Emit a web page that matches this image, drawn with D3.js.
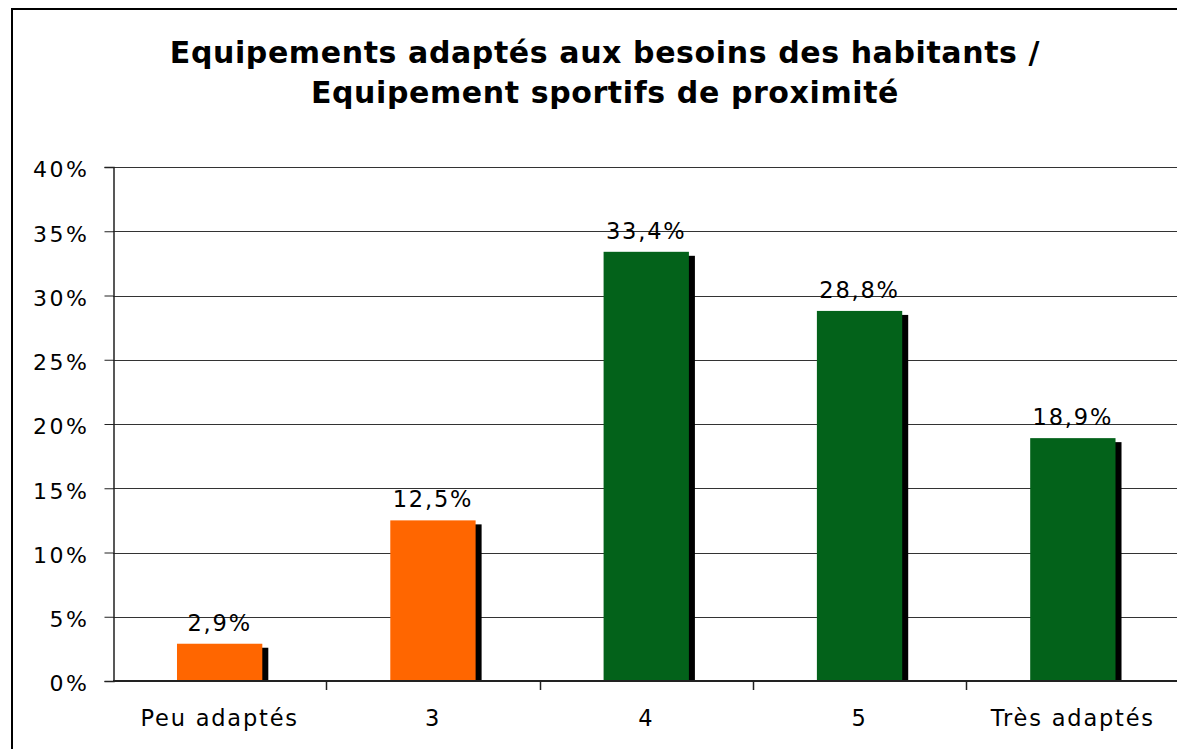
<!DOCTYPE html>
<html>
<head>
<meta charset="utf-8">
<script src="https://cdn.jsdelivr.net/npm/d3@7/dist/d3.min.js"></script>
<style>
  html, body { margin: 0; padding: 0; background: #fff; }
  svg { display: block; }
  text { font-family: "DejaVu Sans", Verdana, sans-serif; fill: #000; }
</style>
</head>
<body>
<svg id="chart" width="1177" height="749"></svg>
<script>
// Survey answers: how well local sports facilities suit residents' needs
const categories = ["Peu adaptés", "3", "4", "5", "Très adaptés"];
const shares = [2.9, 12.5, 33.4, 28.8, 18.9];
const barColors = ["#ff6600", "#ff6600", "#03621a", "#03621a", "#03621a"];
const yTicks = [0, 5, 10, 15, 20, 25, 30, 35, 40];
const titleLines = ["Equipements adaptés aux besoins des habitants /", "Equipement sportifs de proximité"];

const svg = d3.select("#chart");
const W = 1177, H = 749;
const plot = { left: 113, right: 1179.5, top: 167, bottom: 681 };

// Outer frame
svg.append("rect")
  .attr("x", 12).attr("y", 9)
  .attr("width", W + 20).attr("height", H + 20)
  .attr("fill", "#fff").attr("stroke", "#000").attr("stroke-width", 2);

// Title
svg.append("g").selectAll("text")
  .data(titleLines)
  .join("text")
  .attr("x", 605)
  .attr("y", (d, i) => 63 + i * 40)
  .attr("text-anchor", "middle")
  .attr("font-size", 30)
  .attr("font-weight", "bold")
  .style("letter-spacing", "0.6px")
  .text(d => d);

const x = d3.scaleBand()
  .domain(categories)
  .range([plot.left, plot.right])
  .paddingInner(0.6)
  .paddingOuter(0.3);

const y = d3.scaleLinear()
  .domain([0, 40])
  .range([plot.bottom, plot.top]);

// Horizontal gridlines
svg.append("g").selectAll("line")
  .data(yTicks.filter(t => t > 0))
  .join("line")
  .attr("x1", plot.left).attr("x2", W)
  .attr("y1", d => Math.round(y(d)) + 0.5).attr("y2", d => Math.round(y(d)) + 0.5)
  .attr("stroke", "#333").attr("stroke-width", 1);

// Y axis
const yAxis = d3.axisLeft(y)
  .tickValues(yTicks)
  .tickSize(9)
  .tickPadding(14)
  .tickFormat(d => d + "%");
const gy = svg.append("g")
  .attr("transform", `translate(${plot.left + 0.5},0)`)
  .call(yAxis);
gy.select(".domain").attr("stroke", "#222").attr("stroke-width", 1.5);
gy.selectAll(".tick line").attr("stroke", "#222");
gy.selectAll(".tick text")
  .attr("font-family", "DejaVu Sans, Verdana, sans-serif")
  .attr("font-size", 22)
  .style("letter-spacing", "2.5px")
  .attr("dx", "-1")
  .attr("dy", "0.45em")
  .attr("fill", "#000");

// Bar shadows
svg.append("g").selectAll("rect")
  .data(categories)
  .join("rect")
  .attr("x", d => x(d) + 6)
  .attr("y", (d, i) => y(shares[i]) + 4)
  .attr("width", x.bandwidth())
  .attr("height", (d, i) => plot.bottom - y(shares[i]) - 4)
  .attr("fill", "#000");

// Bars
svg.append("g").selectAll("rect")
  .data(categories)
  .join("rect")
  .attr("x", d => x(d))
  .attr("y", (d, i) => y(shares[i]))
  .attr("width", x.bandwidth())
  .attr("height", (d, i) => plot.bottom - y(shares[i]))
  .attr("fill", (d, i) => barColors[i]);

// X axis line and category separators
const step = x.step();
svg.append("line")
  .attr("x1", plot.left).attr("x2", W)
  .attr("y1", plot.bottom).attr("y2", plot.bottom)
  .attr("stroke", "#222").attr("stroke-width", 2);
svg.append("g").selectAll("line")
  .data(categories.slice(1))
  .join("line")
  .attr("x1", d => Math.round(x(d) - step * 0.3) + 0.5)
  .attr("x2", d => Math.round(x(d) - step * 0.3) + 0.5)
  .attr("y1", plot.bottom).attr("y2", plot.bottom + 9)
  .attr("stroke", "#222").attr("stroke-width", 1.5);

// Category labels
svg.append("g").selectAll("text")
  .data(categories)
  .join("text")
  .attr("x", d => x(d) + x.bandwidth() / 2)
  .attr("y", 726)
  .attr("text-anchor", "middle")
  .attr("font-size", 22.5)
  .style("letter-spacing", "1.8px")
  .text(d => d);

// Value labels
svg.append("g").selectAll("text")
  .data(categories)
  .join("text")
  .attr("x", d => x(d) + x.bandwidth() / 2)
  .attr("y", (d, i) => y(shares[i]) - 13)
  .attr("text-anchor", "middle")
  .attr("font-size", 22.5)
  .style("letter-spacing", "1.8px")
  .text((d, i) => shares[i].toFixed(1).replace(".", ",") + "%");
</script>
</body>
</html>
